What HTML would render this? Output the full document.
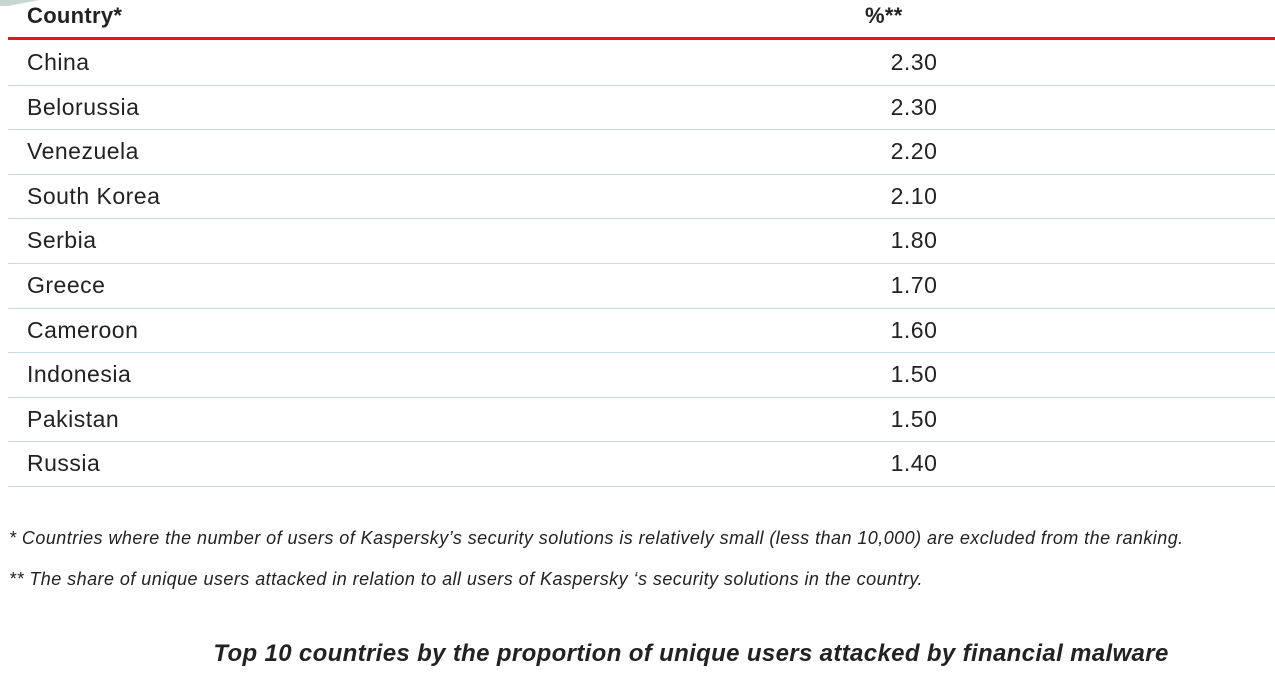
<!DOCTYPE html>
<html><head><meta charset="utf-8"><style>
body{margin:0;width:1275px;height:691px;background:#fff;overflow:hidden;font-family:"Liberation Sans",sans-serif;color:#222;position:relative}
.a{position:absolute;white-space:nowrap}
.hd{font-weight:bold;font-size:22px;top:3px;letter-spacing:0.3px}
.cell{font-size:23px;line-height:24px;letter-spacing:0.5px}
.sep{position:absolute;left:8px;width:1267px;height:1px;background:#c3dde3}
.fn{font-style:italic;font-size:18px;left:9px;letter-spacing:0.45px}
</style></head><body>
<div class="a" style="left:0;top:0;width:40px;height:6px;background:#c8d6d0;clip-path:polygon(0 0,100% 0,20% 100%,0 100%)"></div>
<div class="a hd" style="left:27px">Country*</div>
<div class="a hd" style="left:865px">%**</div>
<div class="a" style="left:8px;top:37px;width:1267px;height:3px;background:#e8161c"></div>
<div id="rows"></div>
<div class="a fn" style="top:528px">* Countries where the number of users of Kaspersky’s security solutions is relatively small (less than 10,000) are excluded from the ranking.</div>
<div class="a fn" style="top:569px">** The share of unique users attacked in relation to all users of Kaspersky ‘s security solutions in the country.</div>
<div class="a" style="left:0;width:1382px;text-align:center;top:640px;font-size:24px;font-weight:bold;font-style:italic;letter-spacing:0.35px">Top 10 countries by the proportion of unique users attacked by financial malware</div>
<script>
const countries=["China","Belorussia","Venezuela","South Korea","Serbia","Greece","Cameroon","Indonesia","Pakistan","Russia"];
const values=[2.30,2.30,2.20,2.10,1.80,1.70,1.60,1.50,1.50,1.40];
const root=document.getElementById('rows');
const rowTop=40,rowH=44.6;
countries.forEach((c,i)=>{
  const y=rowTop+i*rowH;
  const n=document.createElement('div');
  n.className='a cell';n.style.left='27px';n.style.top=(y+10)+'px';n.textContent=c;
  
  
  root.appendChild(n);
  const v=document.createElement('div');
  v.className='a cell';v.style.left='864px';v.style.width='100px';v.style.textAlign='center';v.style.top=(y+10)+'px';v.textContent=values[i].toFixed(2);
  
  
  root.appendChild(v);
  const s=document.createElement('div');
  s.className='sep';s.style.top=Math.round(y+rowH)+'px';
  
  
  root.appendChild(s);
});
</script>
</body></html>
